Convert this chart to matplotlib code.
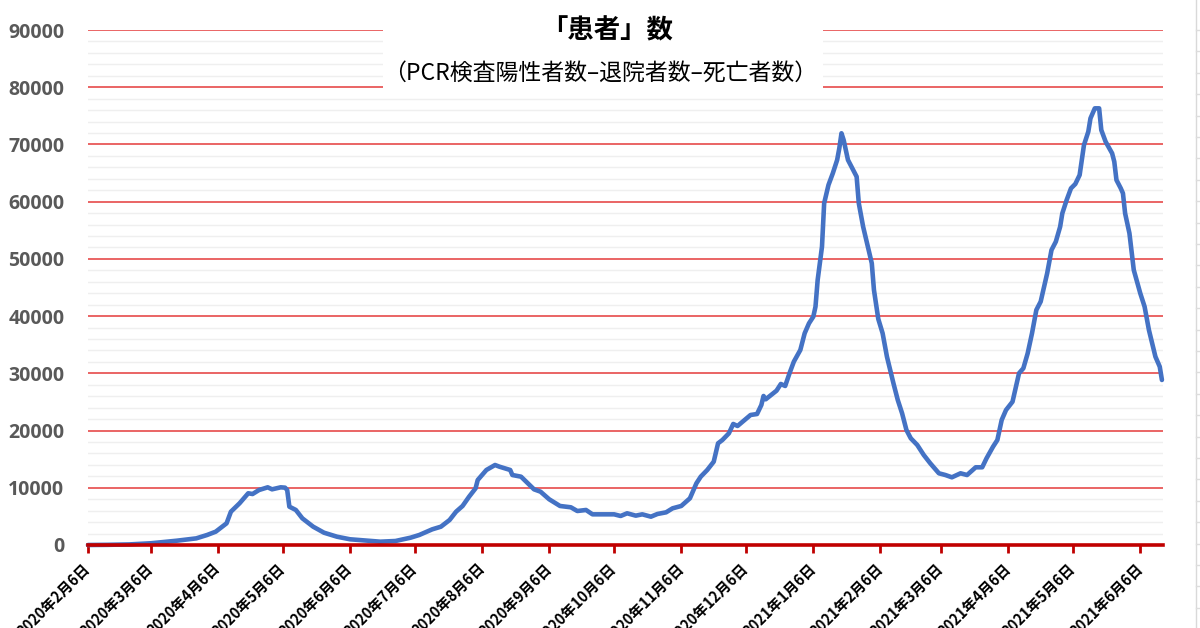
import matplotlib
matplotlib.use('Agg')
import matplotlib.pyplot as plt
import pandas as pd
from matplotlib.ticker import MultipleLocator
from matplotlib.patches import Rectangle
from matplotlib.lines import Line2D

# ---- data ----
dates = [
    '2020-02-06', '2020-02-15', '2020-02-25', '2020-03-06', '2020-03-18', '2020-03-27',
    '2020-04-01', '2020-04-05', '2020-04-10', '2020-04-12', '2020-04-16', '2020-04-20',
    '2020-04-22', '2020-04-25', '2020-04-29', '2020-05-01', '2020-05-05', '2020-05-07',
    '2020-05-08', '2020-05-09', '2020-05-12', '2020-05-15', '2020-05-20', '2020-05-25',
    '2020-05-31', '2020-06-06', '2020-06-14', '2020-06-20', '2020-06-27', '2020-06-29',
    '2020-07-04', '2020-07-08', '2020-07-14', '2020-07-18', '2020-07-22', '2020-07-25',
    '2020-07-28', '2020-07-31', '2020-08-03', '2020-08-04', '2020-08-08', '2020-08-12',
    '2020-08-14', '2020-08-19', '2020-08-20', '2020-08-24', '2020-08-30', '2020-09-02',
    '2020-09-06', '2020-09-11', '2020-09-16', '2020-09-19', '2020-09-23', '2020-09-26',
    '2020-10-01', '2020-10-06', '2020-10-09', '2020-10-12', '2020-10-16', '2020-10-19',
    '2020-10-23', '2020-10-26', '2020-10-30', '2020-11-02', '2020-11-06', '2020-11-10',
    '2020-11-13', '2020-11-15', '2020-11-18', '2020-11-21', '2020-11-23', '2020-11-25',
    '2020-11-28', '2020-11-30', '2020-12-02', '2020-12-08', '2020-12-11', '2020-12-13',
    '2020-12-14', '2020-12-15', '2020-12-20', '2020-12-22', '2020-12-24', '2020-12-26',
    '2020-12-28', '2020-12-31', '2021-01-02', '2021-01-04', '2021-01-06', '2021-01-07',
    '2021-01-08', '2021-01-10', '2021-01-11', '2021-01-13', '2021-01-15', '2021-01-17',
    '2021-01-18', '2021-01-19', '2021-01-20', '2021-01-22', '2021-01-24', '2021-01-26',
    '2021-01-27', '2021-01-29', '2021-01-31', '2021-02-02', '2021-02-03', '2021-02-05',
    '2021-02-07', '2021-02-09', '2021-02-12', '2021-02-14', '2021-02-16', '2021-02-18',
    '2021-02-20', '2021-02-23', '2021-02-26', '2021-03-01', '2021-03-05', '2021-03-08',
    '2021-03-11', '2021-03-15', '2021-03-18', '2021-03-22', '2021-03-25', '2021-03-27',
    '2021-03-30', '2021-04-01', '2021-04-03', '2021-04-05', '2021-04-08', '2021-04-11',
    '2021-04-13', '2021-04-15', '2021-04-17', '2021-04-19', '2021-04-21', '2021-04-24',
    '2021-04-26', '2021-04-28', '2021-04-30', '2021-05-01', '2021-05-03', '2021-05-05',
    '2021-05-07', '2021-05-09', '2021-05-11', '2021-05-13', '2021-05-14', '2021-05-16',
    '2021-05-18', '2021-05-19', '2021-05-21', '2021-05-24', '2021-05-25', '2021-05-26',
    '2021-05-28', '2021-05-29', '2021-05-30', '2021-06-01', '2021-06-03', '2021-06-06',
    '2021-06-08', '2021-06-10', '2021-06-13', '2021-06-15', '2021-06-16',
]
patients = [
    0, 30, 100, 300, 750, 1160,
    1750, 2330, 3790, 5820, 7290, 9040,
    8910, 9610, 10080, 9730, 10080, 10020,
    9610, 6700, 6120, 4660, 3200, 2150,
    1450, 1000, 750, 580, 700, 870,
    1280, 1750, 2740, 3200, 4370, 5820,
    6820, 8440, 9900, 11360, 13110, 13980,
    13690, 13110, 12230, 11940, 9730, 9320,
    7990, 6820, 6590, 5940, 6120, 5360,
    5360, 5360, 5070, 5540, 5130, 5360,
    4950, 5420, 5710, 6410, 6820, 8160,
    10780, 11940, 13110, 14560, 17770, 18350,
    19520, 21150, 20800, 22720, 22890, 24470,
    26040, 25460, 26970, 28140, 27790, 30010,
    32040, 34080, 37000, 38740, 39910, 41650,
    46310, 52130, 59720, 62920, 64960, 67290,
    69330, 71950, 70780, 67290, 65830, 64370,
    59720, 55630, 52430, 49230, 44570, 39500,
    37000, 32910, 28260, 25340, 23010, 20100,
    18650, 17480, 15730, 14280, 12530, 12230,
    11830, 12530, 12230, 13580, 13580, 15150,
    17180, 18350, 21850, 23590, 25040, 30010,
    30880, 33500, 37000, 41070, 42530, 47480,
    51550, 53010, 55630, 57960, 60290, 62330,
    63090, 64660, 69900, 72230, 74560, 76310,
    76310, 72520, 70480, 68450, 66990, 63790,
    62330, 61460, 57960, 54470, 48060, 43990,
    41650, 37570, 32910, 31160, 28840,
]
tick_dates = [
    '2020-02-06', '2020-03-06', '2020-04-06', '2020-05-06', '2020-06-06', '2020-07-06',
    '2020-08-06', '2020-09-06', '2020-10-06', '2020-11-06', '2020-12-06', '2021-01-06',
    '2021-02-06', '2021-03-06', '2021-04-06', '2021-05-06', '2021-06-06',
]
tick_labels = [
    '2020年2月6日', '2020年3月6日', '2020年4月6日', '2020年5月6日', '2020年6月6日',
    '2020年7月6日', '2020年8月6日', '2020年9月6日', '2020年10月6日', '2020年11月6日',
    '2020年12月6日', '2021年1月6日', '2021年2月6日', '2021年3月6日', '2021年4月6日',
    '2021年5月6日', '2021年6月6日',
]
y_ticks = [0, 10000, 20000, 30000, 40000, 50000, 60000, 70000, 80000, 90000]
title = '「患者」数'
subtitle = '（PCR検査陽性者数–退院者数–死亡者数）'

CJK = ['Noto Sans CJK JP', 'DejaVu Sans']

W, H = 1200, 628
fig = plt.figure(figsize=(W / 100, H / 100), dpi=100)
fig.patch.set_facecolor('white')
ax = fig.add_axes([88 / W, (H - 545) / H, (1163 - 88) / W, (545 - 30) / H])

x = pd.to_datetime(dates)
ax.plot(x, patients, color='#4472C4', lw=3.3, solid_joinstyle='round',
        solid_capstyle='round', zorder=3, clip_on=False)

ax.set_ylim(0, 90000)
ax.set_xlim(pd.Timestamp('2020-02-06'), pd.Timestamp('2021-06-16 12:00'))

ax.set_yticks(y_ticks)
ax.set_yticklabels([str(v) for v in y_ticks], fontsize=14, fontweight='bold',
                   family=['Open Sans', 'DejaVu Sans'], color='#595959')
ax.yaxis.set_minor_locator(MultipleLocator(2000))
ax.set_axisbelow(True)
ax.grid(which='major', axis='y', color='#E43A3A', lw=1.1)
ax.grid(which='minor', axis='y', color='#EFEFEF', lw=1.0)
ax.grid(which='both', axis='x', visible=False)
ax.tick_params(axis='y', which='both', length=0, pad=17)

ax.set_xticks(pd.to_datetime(tick_dates))
ax.set_xticklabels(tick_labels, rotation=45, ha='right', va='center',
                   rotation_mode='anchor', fontsize=10.5, fontweight='bold',
                   family=CJK, color='black')
ax.tick_params(axis='x', which='major', length=6, width=2, color='#C00000',
               direction='out', pad=9)
ax.tick_params(axis='x', which='minor', length=0)

for side in ['top', 'right', 'left']:
    ax.spines[side].set_visible(False)
ax.spines['bottom'].set_color('#C00000')
ax.spines['bottom'].set_linewidth(2.6)
ax.spines['bottom'].set_zorder(4)

# white box behind the title (covers gridlines)
ax.add_patch(Rectangle((383 / W, (H - 96) / H), (823 - 383) / W, 96 / H,
                       transform=fig.transFigure, facecolor='white',
                       edgecolor='none', zorder=2, clip_on=False))

fig.text(607 / W, 1 - 31 / H, title, ha='center', va='center', fontsize=19,
         fontweight='bold', family=CJK, color='black')
fig.text(600 / W, 1 - 73 / H, subtitle, ha='center', va='center', fontsize=16.5,
         family=CJK, color='black')

# faint spreadsheet cell borders on the right edge
fig.add_artist(Line2D([1196 / W, 1196 / W], [0, 1], transform=fig.transFigure,
                      color='#D9D9D9', lw=1))
row_px = 30.0
while row_px < H:
    fig.add_artist(Line2D([1196 / W, 1.0], [1 - row_px / H] * 2,
                          transform=fig.transFigure, color='#DDDDDD', lw=1))
    row_px += 21.4

fig.savefig('out.png', dpi=100, facecolor='white')
